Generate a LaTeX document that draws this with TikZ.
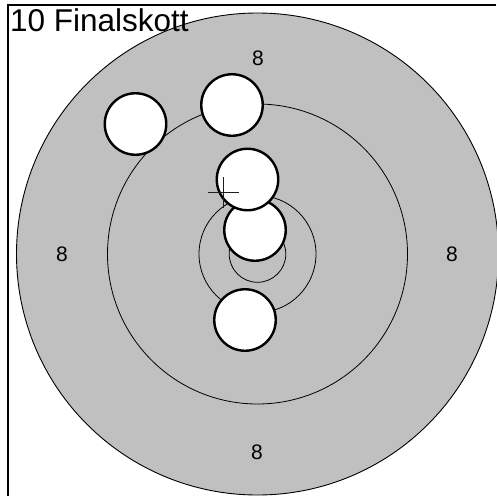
\documentclass[tikz,border=0pt]{standalone}
\usepackage{fontspec}
\setmainfont{Liberation Sans}
\begin{document}
\begin{tikzpicture}[x=1pt,y=-1pt,
  ring/.style={draw=black,line width=0.8pt},
  shot/.style={circle,draw=black,fill=white,line width=2.4pt,minimum size=61.5pt,inner sep=0pt},
  zone/.style={font=\fontsize{21}{21}\selectfont,inner sep=0pt},
  frameline/.style={draw=black,line width=1.4pt}]
\useasboundingbox (0,0) rectangle (496,496);
% target
\fill[fill={rgb,255:red,192;green,192;blue,192},draw=black,line width=0.9pt] (257.5,254) circle[radius=241];
\draw[ring] (257.5,254) circle[radius=150];
\draw[ring] (257.5,254) circle[radius=58.5];
\draw[ring] (257.5,254) circle[radius=28.3];
% zone labels
\node[zone] (ltop) at (258,58) {8};
\node[zone] (lleft) at (62,254) {8};
\node[zone] (lright) at (452,254) {8};
\node[zone] (lbot) at (257,452) {8};
% shots
\node[shot] (s1) at (135.5,124) {};
\node[shot] (s2) at (232,105) {};
\node[shot] (s5) at (245,320) {};
\node[shot] (s4) at (255,230) {};
\node[shot] (s3) at (247.5,179.5) {};
% aim cross
\coordinate (c) at (223.3,192.7);
\draw[line width=1.5pt,draw={rgb,255:red,30;green,30;blue,30}] ([xshift=-15.5pt]c) -- ([xshift=15.5pt]c) ([yshift=-15.5pt]c) -- ([yshift=15.5pt]c);
% frame
\draw[frameline] (496,5) -- (8,5) -- (8,496);
% title
\node[anchor=base west,inner sep=0pt,font=\fontsize{31.5}{31.5}\selectfont] (title) at (10,31.7) {10 Finalskott};
\end{tikzpicture}
\end{document}
